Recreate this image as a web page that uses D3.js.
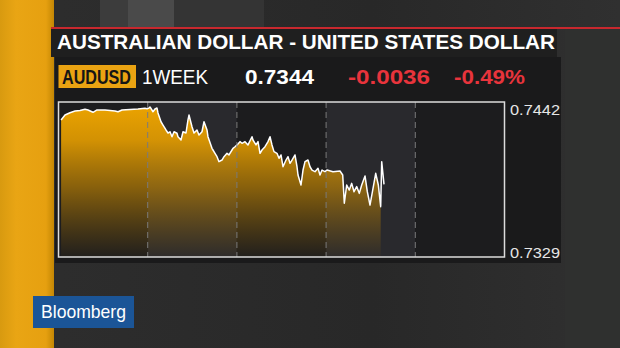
<!DOCTYPE html>
<html>
<head>
<meta charset="utf-8">
<script src="https://cdn.jsdelivr.net/npm/d3@7"></script>
<style>
  html, body { margin: 0; padding: 0; background: #2a2a2a; }
  svg { display: block; font-family: "Liberation Sans", Arial, sans-serif; }
</style>
</head>
<body>
<svg id="chart" width="620" height="348"></svg>
<script>
// hours since start of the week, and AUDUSD price at that hour
var hours = [0.7, 1.75, 3.09, 4.44, 5.78, 7.13, 7.94, 9.28, 10.36, 12.51, 15.2, 16.01, 17.09, 19.24, 21.39, 23.27, 23.81,
  24.35, 24.62, 25.43, 25.96, 26.5, 26.77, 27.58, 28.12, 28.92, 29.46, 30.0, 30.54, 31.08, 31.88, 32.15, 32.96, 33.5, 34.3,
  34.84, 35.11, 35.92, 36.46, 37.26, 37.8, 38.61, 39.15, 39.96, 40.22, 41.3, 41.57, 42.11, 42.65, 43.18, 43.99, 44.53,
  45.34, 45.87, 46.68, 46.95, 47.49, 48.03,
  48.83, 49.37, 50.18, 50.99, 52.06, 52.33, 53.14, 53.68, 54.22, 54.75, 55.56, 56.37, 56.91, 57.44, 57.98, 58.79, 59.33,
  59.87, 60.4, 61.21, 61.75, 62.29, 62.83, 63.63, 64.17, 64.44, 65.25, 65.79, 66.32, 67.13, 67.67, 68.21, 69.01, 69.82,
  70.36, 70.9, 71.7,
  72.24, 73.86, 75.74, 76.47, 76.9, 77.54, 78.24, 78.89, 79.51, 80.23, 80.93, 81.58, 82.47, 83.09, 83.81, 84.54, 85.35,
  86.05, 86.69, 86.96, 87.58];
var prices = [0.74289, 0.74325, 0.74342, 0.74354, 0.74358, 0.74367, 0.74362, 0.74345, 0.74362, 0.74362, 0.74354, 0.74349, 0.74362, 0.74365, 0.74369, 0.74374, 0.74371,
  0.74376, 0.74384, 0.74349, 0.74369, 0.74376, 0.74340, 0.74276, 0.74252, 0.74216, 0.74194, 0.74203, 0.74167, 0.74203, 0.74192, 0.74167, 0.74143, 0.74203, 0.74194,
  0.74289, 0.74325, 0.74240, 0.74194, 0.74216, 0.74179, 0.74203, 0.74276, 0.74216, 0.74167, 0.74082, 0.74070, 0.74046, 0.74021, 0.73985, 0.73997, 0.74021,
  0.74046, 0.74034, 0.74070, 0.74082, 0.74094, 0.74107,
  0.74131, 0.74119, 0.74131, 0.74107, 0.74167, 0.74143, 0.74107, 0.74131, 0.74046, 0.74070, 0.74094, 0.74131, 0.74167, 0.74107, 0.74058, 0.74046, 0.74010,
  0.74034, 0.73948, 0.73997, 0.74021, 0.73973, 0.73997, 0.74034, 0.73948, 0.73888, 0.73815, 0.73924, 0.73985, 0.73997, 0.73948, 0.73924, 0.73912, 0.73937,
  0.73888, 0.73924, 0.73912,
  0.73924, 0.73912, 0.73917, 0.73888, 0.73682, 0.73815, 0.73778, 0.73827, 0.73766, 0.73803, 0.73754, 0.73815, 0.73881, 0.73766, 0.73669, 0.73778, 0.73900,
  0.73815, 0.73657, 0.73985, 0.73820];

var days = [0, 1, 2, 3, 4];
var yTicks = [0.7442, 0.7329];
var title = "AUSTRALIAN DOLLAR - UNITED STATES DOLLAR";
var ticker = "AUDUSD", period = "1WEEK";
var last = "0.7344", change = "-0.0036", changePct = "-0.49%";

var data = hours.map((h, i) => ({h: h, p: prices[i]}));

var svg = d3.select("#chart");
var defs = svg.append("defs");

// background
var bg = defs.append("linearGradient").attr("id", "bg").attr("x1", 0).attr("x2", 1).attr("y1", 0).attr("y2", 0);
bg.append("stop").attr("offset", 0).attr("stop-color", "#2e2e2e");
bg.append("stop").attr("offset", 0.6).attr("stop-color", "#282828");
bg.append("stop").attr("offset", 1).attr("stop-color", "#303030");
svg.append("rect").attr("width", 620).attr("height", 348).attr("fill", "url(#bg)");

// lighter stripes at top
svg.append("rect").attr("x", 100).attr("y", 0).attr("width", 28).attr("height", 27).attr("fill", "#3c3c3c");
svg.append("rect").attr("x", 128).attr("y", 0).attr("width", 46).attr("height", 27).attr("fill", "#4a4a4a");
svg.append("rect").attr("x", 174).attr("y", 0).attr("width", 90).attr("height", 27).attr("fill", "#343434");
svg.append("rect").attr("x", 565).attr("y", 30).attr("width", 55).attr("height", 318).attr("fill", "#2f302f");

// orange side bar
var og = defs.append("linearGradient").attr("id", "orange").attr("x1", 0).attr("x2", 1).attr("y1", 0).attr("y2", 0);
og.append("stop").attr("offset", 0).attr("stop-color", "#d89a10");
og.append("stop").attr("offset", 0.3).attr("stop-color", "#e9a514");
og.append("stop").attr("offset", 0.85).attr("stop-color", "#e6a010");
og.append("stop").attr("offset", 1).attr("stop-color", "#c48704");
svg.append("rect").attr("x", 0).attr("y", 0).attr("width", 54).attr("height", 348).attr("fill", "url(#orange)");

// title band
svg.append("rect").attr("x", 51).attr("y", 27).attr("width", 569).attr("height", 2).attr("fill", "#c8282e");
svg.append("rect").attr("x", 51).attr("y", 29).attr("width", 506).attr("height", 28).attr("fill", "#1f1f1f");
svg.append("text").attr("x", 57).attr("y", 49)
  .attr("font-size", 21).attr("font-weight", "bold").attr("fill", "#ffffff")
  .attr("textLength", 498).attr("lengthAdjust", "spacingAndGlyphs")
  .text(title);

// main panel
svg.append("rect").attr("x", 55).attr("y", 57).attr("width", 506).attr("height", 206).attr("fill", "#1a1a1b");

// header row
svg.append("rect").attr("x", 58.5).attr("y", 65).attr("width", 77.5).attr("height", 23).attr("fill", "#eaa312");
var header = [
  {t: ticker, x: 62, w: 69, c: "#151515", b: true},
  {t: period, x: 142, w: 66, c: "#ffffff", b: false},
  {t: last, x: 245, w: 69, c: "#ffffff", b: true},
  {t: change, x: 348, w: 82, c: "#e8343c", b: true},
  {t: changePct, x: 454, w: 71, c: "#e8343c", b: true}
];
svg.selectAll(".hdr").data(header).enter().append("text")
  .attr("class", "hdr")
  .attr("x", d => d.x).attr("y", 84)
  .attr("font-size", 19.5)
  .attr("font-weight", d => d.b ? "bold" : "normal")
  .attr("fill", d => d.c)
  .attr("textLength", d => d.w).attr("lengthAdjust", "spacingAndGlyphs")
  .text(d => d.t);

// scales
var x = d3.scaleLinear().domain([0, 120]).range([58.5, 504.5]);
var y = d3.scaleLinear().domain([yTicks[1], yTicks[0]]).range([257, 102]);

// day bands
svg.selectAll(".band").data(days).enter().append("rect")
  .attr("class", "band")
  .attr("x", d => x(d * 24))
  .attr("y", y(yTicks[0]))
  .attr("width", x(24) - x(0))
  .attr("height", y(yTicks[1]) - y(yTicks[0]))
  .attr("fill", d => d % 2 ? "#29292d" : "#1c1c1e");

// area gradient
var ag = defs.append("linearGradient").attr("id", "fill")
  .attr("gradientUnits", "userSpaceOnUse")
  .attr("x1", 0).attr("x2", 0).attr("y1", y(yTicks[0])).attr("y2", y(yTicks[1]));
ag.append("stop").attr("offset", 0).attr("stop-color", "#eea500").attr("stop-opacity", 1);
ag.append("stop").attr("offset", 0.25).attr("stop-color", "#e69e00").attr("stop-opacity", 0.9);
ag.append("stop").attr("offset", 0.55).attr("stop-color", "#d08e00").attr("stop-opacity", 0.6);
ag.append("stop").attr("offset", 1).attr("stop-color", "#b07800").attr("stop-opacity", 0.04);

var area = d3.area()
  .x(d => x(d.h))
  .y0(y(yTicks[1]))
  .y1(d => y(d.p));
svg.append("path")
  .datum(data.slice(0, -2))
  .attr("d", area)
  .attr("fill", "url(#fill)");

var line = d3.line()
  .x(d => x(d.h))
  .y(d => y(d.p));
svg.append("path")
  .datum(data)
  .attr("d", line)
  .attr("fill", "none")
  .attr("stroke", "#ffffff")
  .attr("stroke-width", 1.5)
  .attr("stroke-linejoin", "round");

// day dividers
svg.selectAll(".div").data(days.slice(1)).enter().append("line")
  .attr("class", "div")
  .attr("x1", d => x(d * 24)).attr("x2", d => x(d * 24))
  .attr("y1", y(yTicks[0])).attr("y2", y(yTicks[1]))
  .attr("stroke", "#7a7a7a")
  .attr("stroke-width", 1)
  .attr("stroke-dasharray", "6,4");

// frame
svg.append("rect")
  .attr("x", x(0)).attr("y", y(yTicks[0]))
  .attr("width", x(120) - x(0)).attr("height", y(yTicks[1]) - y(yTicks[0]))
  .attr("fill", "none").attr("stroke", "#dcdcdc").attr("stroke-width", 1.5);

// right axis labels
svg.selectAll(".ylab").data(yTicks).enter().append("text")
  .attr("class", "ylab")
  .attr("x", 510)
  .attr("y", (d, i) => i === 0 ? y(d) + 13 : y(d) + 1)
  .attr("font-size", 15)
  .attr("fill", "#e6e6e6")
  .attr("textLength", 50).attr("lengthAdjust", "spacingAndGlyphs")
  .text(d => d3.format(".4f")(d));

// Bloomberg tag
svg.append("rect").attr("x", 33).attr("y", 296).attr("width", 101).attr("height", 32).attr("fill", "#1b5597");
svg.append("text").attr("x", 41).attr("y", 318)
  .attr("font-size", 19).attr("fill", "#ffffff")
  .attr("textLength", 85).attr("lengthAdjust", "spacingAndGlyphs")
  .text("Bloomberg");
</script>
</body>
</html>
